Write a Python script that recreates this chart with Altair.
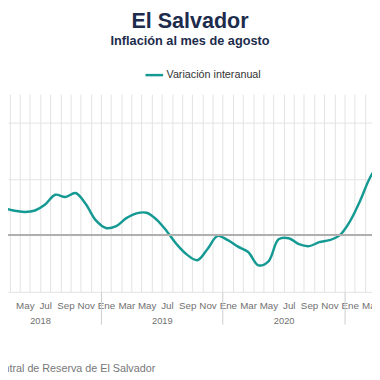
import altair as alt
import pandas as pd

# month index 0 = Ene 2018
month_idx = list(range(0, 40))
values = [1.40, 1.20, 0.97, 0.87, 0.83, 0.88, 1.09, 1.44, 1.36, 1.50,
          1.11, 0.53, 0.26, 0.33, 0.61, 0.78, 0.80, 0.55, 0.14, -0.33,
          -0.69, -0.88, -0.48, -0.02, -0.17, -0.40, -0.59, -1.06, -0.92, -0.14,
          -0.10, -0.31, -0.38, -0.24, -0.17, 0.00, 0.48, 1.20, 2.04, 2.60]
series_name = "Variación interanual"
month_names = ["Ene", "Feb", "Mar", "Abr", "May", "Jun", "Jul", "Ago", "Sep", "Oct", "Nov", "Dic"]
years = [2018, 2019, 2020, 2021]

df = pd.DataFrame({"m": [i + 0.5 for i in month_idx], "v": values, "serie": series_name})

xscale = alt.Scale(domain=[2.843, 38.70], nice=False, zero=False)
yscale = alt.Scale(domain=[-2, 5], nice=False, zero=False)

grid_vals = list(range(0, 42))
label_vals = [i + 0.5 for i in range(0, 42, 2)]
year_vals = [6 + 12 * k for k in range(len(years))]
sep_vals = [12 * k for k in range(1, len(years) + 1)]
names_js = "[" + ",".join("'" + n + "'" for n in month_names) + "]"

line = alt.Chart(df).mark_line(interpolate="catmull-rom", strokeWidth=2.5, clip=True).encode(
    x=alt.X("m:Q", scale=xscale, axis=alt.Axis(values=grid_vals, grid=True, gridColor="#e2e2e2",
                                               labels=False, ticks=False, tickSize=0, domain=False,
                                               title=None, orient="bottom")),
    y=alt.Y("v:Q", scale=yscale, axis=alt.Axis(values=list(range(-2, 6)), grid=True, gridColor="#e2e2e2",
                                               labels=False, ticks=False, domain=False, title=None)),
    color=alt.Color("serie:N", scale=alt.Scale(domain=[series_name], range=["#149a92"]),
                    legend=alt.Legend(orient="none", legendX=139, legendY=-30, title=None,
                                      symbolType="stroke", symbolSize=324, symbolStrokeWidth=2.5,
                                      labelFont="Liberation Sans", labelFontSize=11, labelColor="#333333",
                                      labelOffset=2, padding=0, direction="horizontal")),
)

zero = alt.Chart(df).mark_rule(color="#b0b0b0", strokeWidth=1).encode(
    y=alt.datum(0, scale=yscale)
)

month_axis = alt.Chart(df).mark_point(opacity=0).encode(
    x=alt.X("m:Q", scale=xscale, axis=alt.Axis(values=label_vals, grid=False, ticks=False, tickSize=0,
                                               domain=False, title=None, orient="bottom",
                                               labelExpr=names_js + "[floor(datum.value) % 12]",
                                               labelFont="Liberation Sans", labelFontSize=10,
                                               labelColor="#707070", labelBaseline="middle",
                                               labelPadding=14, labelOverlap=False))
)

year_axis = alt.Chart(df).mark_point(opacity=0).encode(
    x=alt.X("m:Q", scale=xscale, axis=alt.Axis(values=year_vals, grid=False, ticks=False, tickSize=0,
                                               domain=False, title=None, orient="bottom",
                                               labelExpr="'' + (2018 + floor(datum.value / 12))",
                                               labelFont="Liberation Sans", labelFontSize=9.5,
                                               labelColor="#707070", labelBaseline="middle",
                                               labelPadding=29, labelOverlap=False))
)

sep_axis = alt.Chart(df).mark_point(opacity=0).encode(
    x=alt.X("m:Q", scale=xscale, axis=alt.Axis(values=sep_vals, grid=False, ticks=True, tickSize=33,
                                               tickColor="#cccccc", tickWidth=1, labels=False,
                                               domain=False, orient="bottom",
                                               title="Fuente: Banco Central de Reserva de El Salvador",
                                               titleAnchor="start", titleAlign="right", titleX=150, titleY=78,
                                               titleBaseline="middle", titleFont="Liberation Sans",
                                               titleFontSize=11, titleFontWeight="normal",
                                               titleColor="#777777"))
)

chart = alt.layer(line, zero, month_axis, year_axis, sep_axis).resolve_scale(
    x="shared"
).resolve_axis(x="independent").properties(
    width=372, height=202, autosize="none",
    padding={"left": 0, "top": 84, "right": 0, "bottom": 86},
    title=alt.TitleParams("El Salvador", subtitle="Inflación al mes de agosto",
                          font="Liberation Sans", fontSize=22, fontWeight="bold", color="#1d2c4c",
                          subtitleFont="Liberation Sans", subtitleFontSize=13,
                          subtitleFontWeight="bold", subtitleColor="#1d2c4c",
                          anchor="middle", offset=16, subtitlePadding=3)
).configure_view(strokeWidth=0)

chart.save("out.html", embed_options={"renderer": "svg", "actions": False})
